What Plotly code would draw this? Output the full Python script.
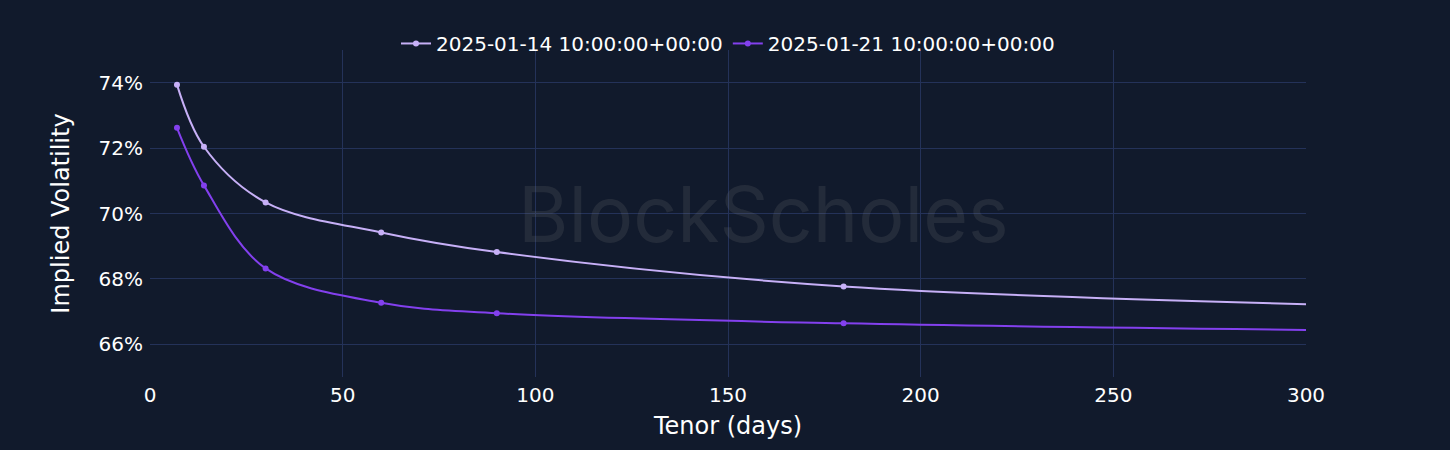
import plotly.graph_objects as go

tenor = [7, 14, 30, 60, 90, 180, 365]
iv_0114 = [0.7394, 0.7204, 0.7034, 0.6942, 0.6882, 0.6777, 0.6705]
iv_0121 = [0.7262, 0.7086, 0.6832, 0.6727, 0.6695, 0.6664, 0.6636]
names = ["2025-01-14 10:00:00+00:00", "2025-01-21 10:00:00+00:00"]
colors = ["#c7b0f7", "#8340ee"]

fig = go.Figure()
for name, vals, col in zip(names, [iv_0114, iv_0121], colors):
    fig.add_trace(go.Scatter(
        x=tenor, y=vals, name=name, mode="lines+markers",
        line=dict(color=col, width=2, shape="spline"),
        marker=dict(color=col, size=6),
    ))

fig.add_annotation(
    text="BlockScholes", xref="paper", yref="paper", x=0.531, y=0.5,
    showarrow=False, font=dict(size=77, color="rgba(120,120,120,0.18)", family="Inter"),
)

fig.update_layout(
    width=1450, height=450,
    paper_bgcolor="#111a2c", plot_bgcolor="#111a2c",
    margin=dict(l=150, r=144, t=50, b=73),
    font=dict(family="DejaVu Sans", color="#ffffff", size=20),
    legend=dict(orientation="h", x=0.5, xanchor="center", y=1.02, yanchor="middle",
                font=dict(size=20), bgcolor="rgba(0,0,0,0)"),
    xaxis=dict(range=[0, 300], dtick=50, showgrid=True, gridcolor="#243259",
               zeroline=False, ticklabelstandoff=4,
               title=dict(text="Tenor (days)", font=dict(size=24), standoff=11),
               tickfont=dict(size=20)),
    yaxis=dict(range=[0.65, 0.75], dtick=0.02, tickformat=".0%", showgrid=True,
               gridcolor="#243259", zeroline=False, ticklabelstandoff=6,
               title=dict(text="Implied Volatility", font=dict(size=24), standoff=22),
               tickfont=dict(size=20)),
)

fig.write_html("out.html", config={"displayModeBar": False},
               post_script="document.body.style.margin='0';")
